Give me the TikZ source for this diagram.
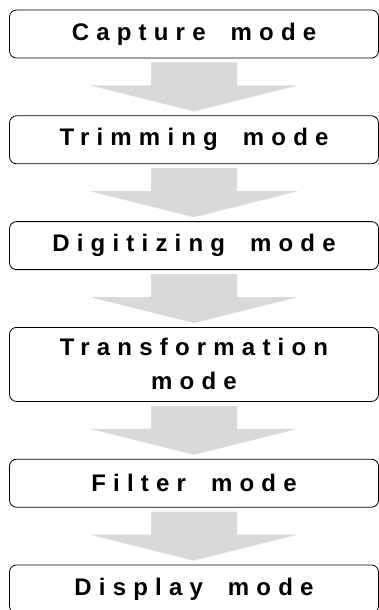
\documentclass[tikz,border=0pt]{standalone}
\usepackage{fontspec}
\setmainfont{Liberation Sans}
\newfontfamily\modefont[LetterSpace=30,WordSpace=1.8]{Liberation Sans}
\usetikzlibrary{positioning,calc}
\definecolor{arrowgray}{RGB}{217,217,217}

% wide grey arrow from the bottom of one box to the top of the next
\newcommand{\modearrow}[2]{%
  \fill[arrowgray] let \p1=($(#1.south)+(0,-4pt)$), \p2=($(#2.north)+(0,4pt)$) in
    (\x1-43pt,\y1) -- (\x1+43pt,\y1) -- (\x1+43pt,\y2+26pt) -- (\x1+104pt,\y2+26pt)
    -- (\x2,\y2) -- (\x1-104pt,\y2+26pt) -- (\x1-43pt,\y2+26pt) -- cycle;}

\begin{document}
\begin{tikzpicture}[x=1pt, y=1pt, mode box/.style={draw, rounded corners=7pt, line width=0.8pt, minimum width=369pt, minimum height=48pt, inner sep=0pt, align=center, font=\modefont\bfseries\fontsize{24}{34}\selectfont}, node distance=57pt]
    \useasboundingbox (0,0) rectangle (379,-610);
    \node[mode box] (capture) at (194,-34) {Capture mode};
    \node[mode box, below=of capture] (trim) {Trimming mode};
    \node[mode box, below=of trim] (digit) {Digitizing mode};
    \node[mode box, below=of digit, minimum height=74pt] (transf) {Transformation\\mode};
    \node[mode box, below=of transf] (filter) {Filter mode};
    \node[mode box, below=of filter] (disp) {Display mode};

    \modearrow{capture}{trim}
    \modearrow{trim}{digit}
    \modearrow{digit}{transf}
    \modearrow{transf}{filter}
    \modearrow{filter}{disp}
\end{tikzpicture}
\end{document}
